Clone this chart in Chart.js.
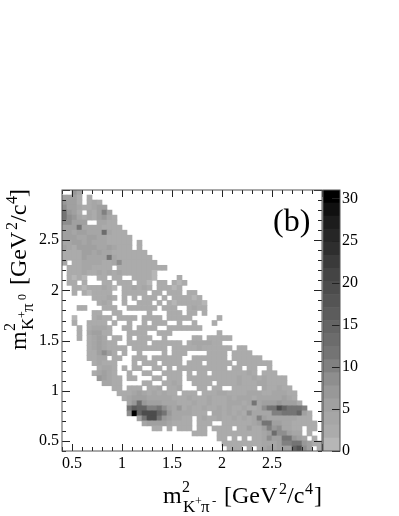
<!DOCTYPE html>
<html>
<head>
<meta charset="utf-8">
<style>
  html, body { margin: 0; padding: 0; background: #fff; }
  #wrap { position: relative; width: 399px; height: 516px; }
  canvas { position: absolute; left: 0; top: 0; }
</style>
<script src="https://cdn.jsdelivr.net/npm/chart.js@4"></script>
</head>
<body>
<div id="wrap">
  <canvas id="mainChart" width="399" height="516"></canvas>
  <canvas id="barChart" width="399" height="516"></canvas>
</div>
<script>
// histogram range (52 x 52 bins)
const xRange = [0.4, 3.0];
const yRange = [0.4, 3.0];
const zRange = [0, 31];

// gray palette, bottom of the colour bar first
const grayLevels = ['#b6b6b6', '#ababab', '#a6a6a6', '#a0a0a0', '#989898', '#8e8e8e', '#808080', '#747474',
  '#6c6c6c', '#646464', '#5c5c5c', '#545454', '#4c4c4c', '#444444', '#3a3a3a', '#2e2e2e',
  '#262626', '#1c1c1c', '#101010', '#000000'];

const colourBarTicks = [0, 5, 10, 15, 20, 25, 30];

// counts per bin, first row is the top of the plot, trailing empty bins left out
const binCounts = [
  [0,0,7,4],
  [5,5,6,3,0,3],
  [7,6,5,2,0,3,4,2],
  [8,6,5,4,3,3,4,5,5],
  [11,7,5,3,0,4,3,5,10,5],
  [11,9,7,4,3,4,3,5,7,4,3],
  [9,8,6,6,5,0,0,4,4,3,3],
  [6,5,6,11,4,4,4,4,3,3,3,2],
  [5,6,4,5,5,4,4,4,13,4,3,3,2],
  [5,5,5,4,4,5,5,4,4,3,3,3,3,2],
  [4,4,5,5,4,6,4,4,4,3,3,3,3,3,0,2],
  [5,4,3,5,5,5,5,4,4,5,4,3,3,3,0,3],
  [3,3,3,3,5,5,4,5,4,4,3,3,3,3,3,3,2],
  [3,2,3,3,5,4,4,4,4,12,4,3,3,3,3,3,3,2],
  [4,0,3,3,4,4,4,4,3,3,4,8,3,3,3,3,3,3,2],
  [0,3,3,3,4,4,3,3,3,3,0,3,2,3,3,2,3,3,3,2,2],
  [0,3,2,3,4,3,2,4,3,4,3,4,2,3,2,3,3,3,1],
  [0,3,1,2,1,0,0,3,2,0,3,2,0,0,3,3,2,3,1,0,0,0,0,2],
  [0,2,3,0,2,0,0,0,3,2,0,3,3,3,0,3,3,1,0,2,3,0,2,1,2],
  [0,0,3,2,1,3,3,3,4,3,1,0,3,3,4,3,4,3,0,2,3,3,1,2],
  [0,0,2,0,3,1,2,3,2,3,0,0,3,3,3,2,3,0,2,3,0,3,2,3,0,2,2],
  [0,0,0,0,0,0,3,3,3,4,3,0,3,0,3,0,2,3,3,0,2,0,3,2,3,3,1,2],
  [0,0,0,0,0,0,0,3,4,2,0,0,2,0,0,2,3,3,0,2,0,3,1,3,3,2,3,2,1],
  [0,0,0,2,2,0,0,0,3,2,3,0,0,3,3,2,2,3,3,0,2,3,2,0,0,3,4,3,2],
  [0,0,0,0,0,0,2,3,0,0,3,3,0,0,0,0,0,3,0,0,0,2,3,3,0,3,3,0,2],
  [0,0,1,0,0,0,2,4,3,2,0,2,2,3,2,0,3,2,2,3,0,2,3,2,2,2,0,0,0,0,0,2],
  [0,0,2,0,0,2,3,3,3,0,3,0,0,3,0,0,3,0,3,3,2,0,0,3,0,0,3,0,0,0,2],
  [0,0,0,2,0,3,4,4,4,3,0,0,2,2,0,3,3,2,3,0,0,2,2,3,3,3,3,3],
  [0,0,0,2,0,4,5,5,3,3,0,0,0,3,3,3,2,0,0,3,3,2,0,0,0,0,0,0,0,0,0,2],
  [0,0,0,2,0,3,4,5,4,0,2,3,0,3,0,2,3,3,0,0,3,0,0,0,0,0,3,3,0,2,3,3,2,2],
  [0,0,0,0,0,3,4,5,4,3,2,0,0,3,3,2,3,0,3,3,2,3,2,3,0,3,4,4,4,4,3,3],
  [0,0,0,0,0,3,4,5,4,3,3,2,3,0,3,2,3,3,2,3,3,0,3,3,3,3,3,4,3,2,3,3,2,3,0,2,2],
  [0,0,0,0,0,3,3,5,8,6,3,0,2,0,0,3,0,0,0,0,2,0,3,3,3,0,0,0,0,3,3,3,3,0,3,2,3,2],
  [0,0,0,0,0,3,3,4,4,0,3,3,0,0,3,2,3,0,2,3,2,3,3,2,0,0,3,3,2,3,3,3,3,0,3,3,3,3,3,2],
  [0,0,0,0,0,0,3,4,3,3,3,0,0,0,3,0,2,3,3,0,3,2,3,2,0,3,3,2,0,3,3,3,3,3,0,3,3,3,3,2,3,2],
  [0,0,0,0,0,0,0,3,4,4,2,0,3,0,2,3,0,0,3,3,0,3,0,2,3,3,2,3,3,3,2,3,3,0,3,3,0,3,3,0,0,2],
  [0,0,0,0,0,0,2,4,5,4,3,0,0,3,0,0,3,3,0,0,3,2,3,3,0,3,0,3,3,0,3,3,3,3,3,3,3,4,3,0,3,3,2],
  [0,0,0,0,0,0,0,7,5,4,3,2,0,3,3,0,0,0,3,2,0,3,3,3,0,3,3,3,3,3,3,3,3,3,3,4,3,3,4,3,4,3,3,3,2],
  [0,0,0,0,0,0,0,0,4,4,3,3,0,0,0,0,3,2,0,0,3,3,4,3,0,0,3,3,2,3,0,3,3,3,3,4,3,3,3,4,4,3,3,3,2],
  [0,0,0,0,0,0,0,0,0,0,3,3,0,3,2,3,0,3,3,4,0,2,3,4,0,0,0,3,3,0,3,3,0,0,3,3,3,3,3,0,4,3,3,4,3,2],
  [0,0,0,0,0,0,0,0,0,0,0,3,3,3,4,5,4,3,4,3,4,3,3,0,3,3,2,0,3,3,3,4,4,3,3,3,3,4,4,4,3,3,4,4,4,3,2],
  [0,0,0,0,0,0,0,0,0,0,0,0,3,4,5,6,6,4,4,4,4,4,3,3,3,4,3,3,3,4,3,3,3,4,3,4,4,4,3,4,4,4,4,4,5,4,3],
  [0,0,0,0,0,0,0,0,0,0,0,0,0,4,7,13,7,5,5,5,4,4,4,3,3,3,4,3,3,4,3,3,3,4,4,4,3,4,11,4,6,6,6,7,6,5,5,3],
  [0,0,0,0,0,0,0,0,0,0,0,0,0,11,16,15,14,10,10,11,8,5,4,7,3,4,3,3,4,3,3,4,3,4,3,3,4,3,3,4,8,11,12,19,14,12,12,11,10],
  [0,0,0,0,0,0,0,0,0,0,0,0,0,9,31,14,19,20,19,14,12,7,4,4,4,4,3,3,3,0,4,4,3,4,3,4,3,9,4,4,4,4,10,10,12,12,11,14,5,3],
  [0,0,0,0,0,0,0,0,0,0,0,0,0,0,0,5,12,19,20,12,7,5,4,4,3,3,0,3,4,3,3,4,3,3,4,3,4,3,4,10,5,4,4,4,4,4,4,3,3,2],
  [0,0,0,0,0,0,0,0,0,0,0,0,0,0,0,0,4,6,6,5,5,4,3,3,3,3,0,3,3,3,0,0,3,3,3,3,3,3,4,5,12,11,5,5,4,4,3,3,3,3,2],
  [0,0,0,0,0,0,0,0,0,0,0,0,0,0,0,0,0,0,3,3,0,3,0,2,3,3,0,3,3,0,3,3,3,3,0,3,3,5,3,3,6,10,7,8,4,4,3,3,0,3,2],
  [0,0,0,0,0,0,0,0,0,0,0,0,0,0,0,0,0,0,0,0,0,0,0,0,0,0,3,3,3,0,0,3,3,3,3,3,3,3,3,3,4,5,13,9,8,5,4,4,0,3],
  [0,0,0,0,0,0,0,0,0,0,0,0,0,0,0,0,0,0,0,0,0,0,0,0,0,0,0,0,0,0,0,3,3,0,3,0,3,0,3,3,4,9,5,6,11,12,7,5,4,0,3],
  [0,0,0,0,0,0,0,0,0,0,0,0,0,0,0,0,0,0,0,0,0,0,0,0,0,0,0,0,0,0,0,0,3,3,3,3,3,3,3,3,4,4,4,5,10,10,12,12,7,5,3,2],
  [0,0,0,0,0,0,0,0,0,0,0,0,0,0,0,0,0,0,0,0,0,0,0,0,0,0,0,0,0,0,0,0,0,3,3,3,0,3,0,3,4,5,4,5,5,6,14,18,9,5,0,2]
];

const SERIF = '"Liberation Serif", "Times New Roman", serif';
const binW = (xRange[1] - xRange[0]) / 52;
const binH = (yRange[1] - yRange[0]) / 52;

function grayForCount(z) {
  const idx = Math.floor((z - zRange[0]) / (zRange[1] - zRange[0]) * grayLevels.length);
  return grayLevels[Math.min(idx, grayLevels.length - 1)];
}

// one floating bar per filled bin
const cells = [];
binCounts.forEach((row, r) => {
  row.forEach((count, c) => {
    if (count > 0) {
      cells.push({
        x: xRange[0] + binW * (c + 0.5),
        y: [yRange[1] - binH * (r + 1), yRange[1] - binH * r],
        count: count
      });
    }
  });
});

function isMajor(value) {
  const v = Math.round(value * 10) / 10;
  return Math.abs(v * 2 - Math.round(v * 2)) < 1e-6;
}

// labels every 0.5, the upper end of the axis stays blank
function halfLabel(value) {
  const v = Math.round(value * 10) / 10;
  return isMajor(v) && v < xRange[1] ? String(v) : '';
}

// inward ticks on all four sides plus the frame
const frameTicks = {
  id: 'frameTicks',
  afterDatasetsDraw(chart) {
    const { ctx, chartArea: a, scales } = chart;
    ctx.save();
    ctx.strokeStyle = '#222';
    ctx.lineWidth = 1;
    ctx.beginPath();
    scales.x.ticks.forEach(t => {
      const px = Math.round(scales.x.getPixelForValue(t.value)) + 0.5;
      const len = isMajor(t.value) ? 7 : 4;
      ctx.moveTo(px, a.bottom);
      ctx.lineTo(px, a.bottom - len);
      ctx.moveTo(px, a.top);
      ctx.lineTo(px, a.top + len);
    });
    scales.y.ticks.forEach(t => {
      const py = Math.round(scales.y.getPixelForValue(t.value)) + 0.5;
      const len = isMajor(t.value) ? 8 : 4;
      ctx.moveTo(a.left, py);
      ctx.lineTo(a.left + len, py);
      ctx.moveTo(a.right, py);
      ctx.lineTo(a.right - len, py);
    });
    ctx.stroke();
    ctx.strokeStyle = '#555';
    ctx.strokeRect(a.left, a.top, a.right - a.left, a.bottom - a.top);
    ctx.restore();
  }
};

// titles need sub/superscripts, so they are placed piece by piece
const xTitleParts = [
  ['m', 0, 0, 24], ['2', 19, -11, 16], ['K', 20, 9, 17], ['+', 32, 2, 12], ['π', 38, 9, 17], ['-', 49, 2, 13],
  ['[GeV', 61, 0, 24], ['2', 116, -9, 16], ['/c', 124, 0, 24], ['4', 142, -9, 16], [']', 151, 0, 24]
];
const yTitleParts = [
  ['m', 0, 0, 24], ['2', 19, -11, 16], ['K', 20, 7, 17], ['+', 32, 0, 12], ['π', 38, 7, 17], ['0', 50, 0, 12],
  ['[GeV', 65, 0, 24], ['2', 120, -9, 16], ['/c', 128, 0, 24], ['4', 146, -9, 16], [']', 153, 0, 24]
];

function drawParts(ctx, parts) {
  parts.forEach(p => {
    ctx.font = p[3] + 'px ' + SERIF;
    ctx.fillText(p[0], p[1], p[2]);
  });
}

const plotTexts = {
  id: 'plotTexts',
  afterDraw(chart) {
    const ctx = chart.ctx;
    ctx.save();
    ctx.fillStyle = '#000';
    ctx.textBaseline = 'alphabetic';
    ctx.textAlign = 'left';
    ctx.font = '32px ' + SERIF;
    ctx.fillText('(b)', 273, 231);
    ctx.save();
    ctx.translate(163, 503);
    drawParts(ctx, xTitleParts);
    ctx.restore();
    ctx.save();
    ctx.translate(26, 350);
    ctx.rotate(-Math.PI / 2);
    drawParts(ctx, yTitleParts);
    ctx.restore();
    ctx.restore();
  }
};

new Chart(document.getElementById('mainChart').getContext('2d'), {
  type: 'bar',
  data: {
    datasets: [{
      data: cells,
      backgroundColor: c => grayForCount(c.raw.count),
      barThickness: 5,
      grouped: false
    }]
  },
  options: {
    responsive: false,
    animation: false,
    layout: { padding: { top: 190, left: 0, right: 77, bottom: 0 } },
    plugins: { legend: { display: false }, tooltip: { enabled: false } },
    scales: {
      x: {
        type: 'linear',
        offset: false,
        min: xRange[0],
        max: xRange[1],
        grid: { display: false, offset: false, drawTicks: false },
        border: { display: false },
        afterFit: s => { s.height = 65; },
        ticks: {
          stepSize: 0.1,
          autoSkip: false,
          maxRotation: 0,
          padding: 3,
          color: '#000',
          font: { family: SERIF, size: 16 },
          callback: halfLabel
        }
      },
      y: {
        min: yRange[0],
        max: yRange[1],
        grid: { display: false, drawTicks: false },
        border: { display: false },
        afterFit: s => { s.width = 62; },
        ticks: {
          stepSize: 0.1,
          autoSkip: false,
          padding: 3,
          color: '#000',
          font: { family: SERIF, size: 16 },
          callback: halfLabel
        }
      }
    }
  },
  plugins: [frameTicks, plotTexts]
});

// colour bar: one band per palette entry
const bandSize = (zRange[1] - zRange[0]) / grayLevels.length;
const bandSets = grayLevels.map((col, i) => ({
  data: [[zRange[0] + i * bandSize, zRange[0] + (i + 1) * bandSize]],
  backgroundColor: col,
  barPercentage: 1,
  categoryPercentage: 1,
  grouped: false
}));

const barFrame = {
  id: 'barFrame',
  afterDatasetsDraw(chart) {
    const { ctx, chartArea: a, scales } = chart;
    ctx.save();
    ctx.strokeStyle = '#222';
    ctx.beginPath();
    scales.y.ticks.forEach(t => {
      const py = Math.round(scales.y.getPixelForValue(t.value)) + 0.5;
      ctx.moveTo(a.right, py);
      ctx.lineTo(a.right - 8, py);
    });
    ctx.stroke();
    ctx.strokeStyle = '#555';
    ctx.strokeRect(a.left, a.top, a.right - a.left, a.bottom - a.top);
    ctx.restore();
  }
};

new Chart(document.getElementById('barChart').getContext('2d'), {
  type: 'bar',
  data: { labels: [''], datasets: bandSets },
  options: {
    responsive: false,
    animation: false,
    layout: { padding: { top: 190, left: 323, right: 29, bottom: 65 } },
    plugins: { legend: { display: false }, tooltip: { enabled: false } },
    scales: {
      x: { display: false },
      y: {
        position: 'right',
        min: zRange[0],
        max: zRange[1],
        afterBuildTicks: s => { s.ticks = colourBarTicks.map(v => ({ value: v })); },
        grid: { display: false, drawTicks: false },
        border: { display: false },
        afterFit: s => { s.width = 30; },
        ticks: {
          autoSkip: false,
          padding: 2,
          color: '#000',
          font: { family: SERIF, size: 16 }
        }
      }
    }
  },
  plugins: [barFrame]
});
</script>
</body>
</html>
